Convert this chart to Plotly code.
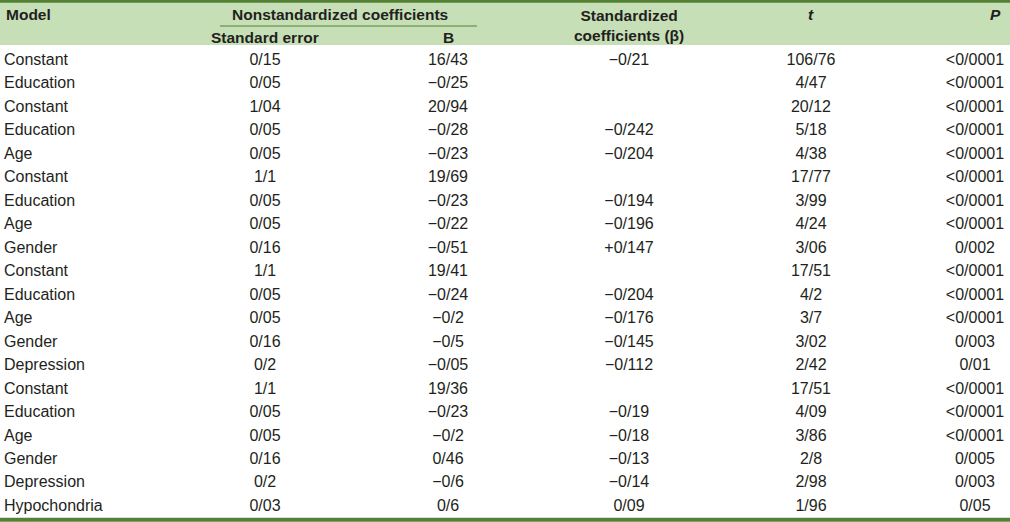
import plotly.graph_objects as go

# ---------------- data ----------------
models = ["Constant", "Education", "Constant", "Education", "Age", "Constant", "Education", "Age",
          "Gender", "Constant", "Education", "Age", "Gender", "Depression", "Constant", "Education",
          "Age", "Gender", "Depression", "Hypochondria"]
std_error = ["0/15", "0/05", "1/04", "0/05", "0/05", "1/1", "0/05", "0/05", "0/16", "1/1", "0/05",
             "0/05", "0/16", "0/2", "1/1", "0/05", "0/05", "0/16", "0/2", "0/03"]
b_coef = ["16/43", "−0/25", "20/94", "−0/28", "−0/23", "19/69", "−0/23", "−0/22", "−0/51", "19/41",
          "−0/24", "−0/2", "−0/5", "−0/05", "19/36", "−0/23", "−0/2", "0/46", "−0/6", "0/6"]
beta = ["−0/21", "", "", "−0/242", "−0/204", "", "−0/194", "−0/196", "+0/147", "", "−0/204",
        "−0/176", "−0/145", "−0/112", "", "−0/19", "−0/18", "−0/13", "−0/14", "0/09"]
t_vals = ["106/76", "4/47", "20/12", "5/18", "4/38", "17/77", "3/99", "4/24", "3/06", "17/51", "4/2",
          "3/7", "3/02", "2/42", "17/51", "4/09", "3/86", "2/8", "2/98", "1/96"]
p_vals = ["<0/0001", "<0/0001", "<0/0001", "<0/0001", "<0/0001", "<0/0001", "<0/0001", "<0/0001",
          "0/002", "<0/0001", "<0/0001", "<0/0001", "0/003", "0/01", "<0/0001", "<0/0001", "<0/0001",
          "0/005", "0/003", "0/05"]
header_group = "Nonstandardized coefficients"
header_cols = ["Model", "Standard error", "B", "Standardized<br>coefficients (β)", "<i>t</i>", "<i>P</i>"]

# ---------------- style ----------------
W, H = 1010, 522
FONT = "Liberation Sans, Arial, sans-serif"
TXT = "#231f20"
HEAD_BG = "#c6dfb6"
BORDER = "#548235"
col_x = {"model": 4, "se": 265, "b": 448, "beta": 629, "t": 811, "p": 975}

rows = list(range(len(models)))
y_top, y_bot = -2.599, 19.642  # row-unit range mapped to the canvas

def esc(s):
    return s.replace("<", "&lt;")

fig = go.Figure()

def add_col(x, vals, pos="middle center"):
    fig.add_trace(go.Scatter(
        x=[x] * len(vals), y=rows, mode="text", text=[esc(v) for v in vals],
        textposition=pos, textfont=dict(family=FONT, size=16, color=TXT),
        hoverinfo="skip", showlegend=False))

add_col(col_x["model"], models, "middle right")
add_col(col_x["se"], std_error)
add_col(col_x["b"], b_coef)
add_col(col_x["beta"], beta)
add_col(col_x["t"], t_vals)
add_col(col_x["p"], p_vals)

# header background and rules
fig.add_shape(type="rect", x0=0, x1=W, y0=y_top, y1=-0.68, fillcolor=HEAD_BG, line_width=0, layer="below")
fig.add_shape(type="line", x0=0, x1=W, y0=y_top + 0.05, y1=y_top + 0.05, line=dict(color=BORDER, width=3))
fig.add_shape(type="line", x0=0, x1=W, y0=19.55, y1=19.55, line=dict(color=BORDER, width=4))
fig.add_shape(type="line", x0=220, x1=477, y0=-1.49, y1=-1.49, line=dict(color=BORDER, width=1))

hfont = dict(family=FONT, size=15.5, color=TXT)
def head(text, x, y, xanchor="center"):
    fig.add_annotation(x=x, y=y, xref="x", yref="y", text="<b>" + text + "</b>", showarrow=False,
                       xanchor=xanchor, yanchor="middle", font=hfont)

head(header_cols[0], 4, -2.0, "left")
head(header_group, 340, -2.0)
head(header_cols[1], col_x["se"], -1.02)
head(header_cols[2], col_x["b"], -1.02)
head(header_cols[3], col_x["beta"], -1.5)
head(header_cols[4], col_x["t"], -2.0)
head(header_cols[5], 1003, -2.0, "right")

fig.update_xaxes(range=[0, W], visible=False, fixedrange=True)
fig.update_yaxes(range=[y_bot, y_top], visible=False, fixedrange=True)
fig.update_layout(width=W, height=H, margin=dict(l=0, r=0, t=0, b=0),
                  paper_bgcolor="white", plot_bgcolor="white")

fig.write_html("out.html", config={"displayModeBar": False},
               post_script="document.body.style.margin='0';document.body.style.overflow='hidden';")
